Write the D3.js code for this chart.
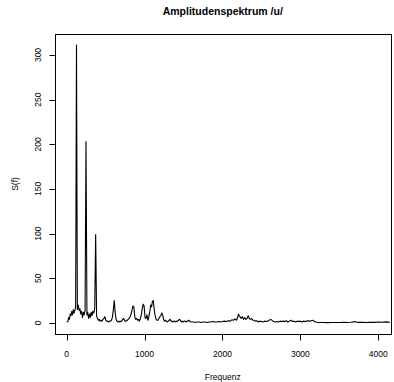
<!DOCTYPE html>
<html>
<head>
<meta charset="utf-8">
<script src="https://cdn.jsdelivr.net/npm/d3@7/dist/d3.min.js"></script>
<style>
  body { margin: 0; background: #fff; }
  text { font-family: "Liberation Sans", Arial, Helvetica, sans-serif; fill: #000; }
</style>
</head>
<body>
<svg id="chart"></svg>
<script>
// spectrum: frequency (Hz) and amplitude S(f)
var freq = [
  0, 15, 25, 35, 45, 55, 65, 75, 85, 95, 105, 115, 126, 137, 148, 160, 170, 180, 192, 203,
  214, 224, 236, 248, 260, 270, 281, 292, 303, 314, 325, 336, 348, 360, 372, 384, 395, 406, 418, 430,
  442, 454, 466, 478, 490, 502, 514, 526, 538, 550, 562, 574, 586, 598, 611, 622, 634, 646, 658, 670,
  682, 694, 706, 718, 730, 742, 754, 766, 778, 790, 802, 814, 826, 838, 850, 862, 874, 886, 898, 910,
  922, 934, 946, 958, 970, 982, 994, 1006, 1018, 1030, 1042, 1054, 1066, 1078, 1090, 1100, 1112, 1124, 1136, 1148,
  1160, 1172, 1184, 1196, 1208, 1220, 1232, 1244, 1256, 1268, 1280, 1292, 1304, 1316, 1328, 1340, 1352, 1364, 1376, 1388,
  1400, 1412, 1424, 1436, 1448, 1460, 1472, 1484, 1496, 1508, 1520, 1532, 1544, 1556, 1568, 1580, 1592, 1610, 1630, 1650,
  1675, 1700, 1725, 1750, 1775, 1800, 1825, 1850, 1875, 1900, 1925, 1950, 1975, 2000, 2025, 2050, 2075, 2100, 2120, 2140,
  2160, 2180, 2195, 2205, 2215, 2225, 2240, 2255, 2270, 2285, 2300, 2315, 2330, 2345, 2360, 2375, 2390, 2405, 2420, 2440,
  2460, 2480, 2500, 2520, 2540, 2560, 2580, 2600, 2620, 2640, 2660, 2680, 2700, 2720, 2740, 2760, 2780, 2800, 2820, 2840,
  2860, 2880, 2900, 2920, 2940, 2960, 2980, 3000, 3020, 3040, 3060, 3080, 3100, 3120, 3140, 3160, 3180, 3200, 3225, 3250,
  3300, 3350, 3400, 3450, 3500, 3550, 3600, 3650, 3700, 3725, 3750, 3800, 3850, 3900, 3950, 4000, 4050, 4100, 4150
];
var amp = [
  1, 1.5, 6, 4, 10, 8, 13, 9, 15, 11, 14, 18, 311, 15, 20, 14, 16, 10, 13, 6,
  12, 9, 14, 203, 9, 12, 5, 10, 6, 12, 8, 13, 11, 16, 99, 8, 5, 3, 4, 2,
  3, 2, 4, 5, 7, 3, 2, 2, 1, 2, 2, 3, 6, 14, 25, 12, 4, 2, 1, 2,
  1, 2, 2, 4, 5, 3, 2, 2, 3, 4, 5, 7, 10, 14, 19, 18, 7, 4, 5, 3,
  4, 2, 5, 9, 16, 21, 19, 6, 5, 9, 3, 7, 12, 20, 18, 24, 25, 15, 8, 4,
  3, 3, 5, 7, 8, 11, 9, 4, 2, 3, 2, 1, 2, 3, 4, 2, 2, 1, 2, 2,
  1, 2, 2, 3, 4, 3, 1, 2, 1, 2, 2, 1, 2, 2, 3, 2, 1, 1, 1, 0.5,
  1, 1, 0.5, 1, 1, 0.5, 1, 1, 1.5, 1, 1, 1.5, 1, 1.5, 2, 1.5, 2.5, 2, 3.5, 3,
  4.5, 3, 6, 10, 8, 7, 5, 7, 4, 6, 4, 5, 8, 5, 4, 5, 3, 3, 2, 2.5,
  1, 2, 1.5, 1, 2, 1.5, 2, 3, 4, 2.5, 1.5, 1, 1.5, 1, 2, 1.5, 2, 1.5, 2.5, 1,
  2, 3, 1.5, 2, 1, 2, 1.5, 2, 1, 2, 1.5, 2, 2.5, 2, 2.5, 3, 1.5, 1, 0.5, 0.5,
  0.5, 0.3, 0.5, 0.4, 0.5, 0.6, 0.5, 0.7, 1.5, 0.8, 0.6, 0.7, 0.5, 0.8, 0.6, 1.0, 0.7, 1.2, 0.8
];
var xTicks = [0, 1000, 2000, 3000, 4000];
var yTicks = [0, 50, 100, 150, 200, 250, 300];

var width = 394, height = 382;
var box = {left: 55, right: 390.5, top: 34, bottom: 334};

var svg = d3.select("#chart").attr("width", width).attr("height", height);

var x = d3.scaleLinear().domain([-150, 4157]).range([box.left, box.right]);
var y = d3.scaleLinear().domain([-12.4, 323.5]).range([box.bottom, box.top]);

var pts = freq.map(function(f, i) { return [f, amp[i]]; });

var line = d3.line()
    .x(function(d) { return x(d[0]); })
    .y(function(d) { return y(d[1]); });

svg.append("path")
    .datum(pts)
    .attr("d", line)
    .attr("fill", "none")
    .attr("stroke", "#000")
    .attr("stroke-width", 1.1)
    .attr("stroke-linejoin", "round");

// plot frame
svg.append("rect")
    .attr("x", Math.round(box.left) + 0.5)
    .attr("y", Math.round(box.top) + 0.5)
    .attr("width", Math.round(box.right - box.left))
    .attr("height", Math.round(box.bottom - box.top))
    .attr("fill", "none")
    .attr("stroke", "#000")
    .attr("stroke-width", 1);

// x axis (R style, ticks outside)
var gx = svg.append("g").attr("transform", "translate(0," + (Math.round(box.bottom) + 0.5) + ")");
gx.append("line")
    .attr("x1", x(0)).attr("x2", x(4000))
    .attr("stroke", "#000");
gx.selectAll("line.tick").data(xTicks).enter().append("line")
    .attr("class", "tick")
    .attr("x1", function(d) { return Math.round(x(d)) + 0.5; })
    .attr("x2", function(d) { return Math.round(x(d)) + 0.5; })
    .attr("y1", 0).attr("y2", 6)
    .attr("stroke", "#000");
gx.selectAll("text").data(xTicks).enter().append("text")
    .attr("x", function(d) { return x(d); })
    .attr("y", 22)
    .attr("text-anchor", "middle")
    .style("font-size", "8.5px")
    .text(function(d) { return d; });

// y axis
var gy = svg.append("g").attr("transform", "translate(" + (Math.round(box.left) + 0.5) + ",0)");
gy.append("line")
    .attr("y1", y(0)).attr("y2", y(300))
    .attr("stroke", "#000");
gy.selectAll("line.tick").data(yTicks).enter().append("line")
    .attr("class", "tick")
    .attr("y1", function(d) { return Math.round(y(d)) + 0.5; })
    .attr("y2", function(d) { return Math.round(y(d)) + 0.5; })
    .attr("x1", 0).attr("x2", -6)
    .attr("stroke", "#000");
gy.selectAll("text").data(yTicks).enter().append("text")
    .attr("transform", function(d) { return "translate(-15," + y(d) + ") rotate(-90)"; })
    .attr("text-anchor", "middle")
    .style("font-size", "8.5px")
    .text(function(d) { return d; });

// titles
svg.append("text")
    .attr("x", (box.left + box.right) / 2)
    .attr("y", 15)
    .attr("text-anchor", "middle")
    .style("font-size", "10.5px")
    .style("font-weight", "bold")
    .text("Amplitudenspektrum /u/");

svg.append("text")
    .attr("x", (box.left + box.right) / 2)
    .attr("y", 380)
    .attr("text-anchor", "middle")
    .style("font-size", "8.5px")
    .text("Frequenz");

svg.append("text")
    .attr("transform", "translate(18," + ((box.top + box.bottom) / 2) + ") rotate(-90)")
    .attr("text-anchor", "middle")
    .style("font-size", "8.5px")
    .text("S(f)");
</script>
</body>
</html>
